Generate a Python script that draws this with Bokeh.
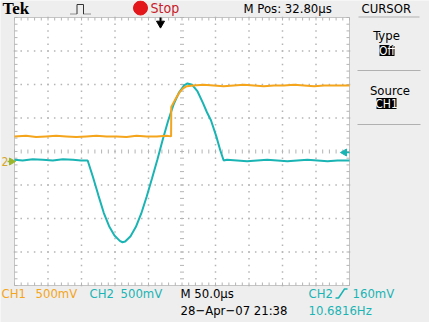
import numpy as np
from bokeh.plotting import figure
from bokeh.models import Range1d, Label
from bokeh.embed import file_html
from bokeh.resources import INLINE

# ---------------- data ----------------
ch1_time_us = [-217.2, -200, -185, -170, -155, -140, -125, -110, -95, -80, -65, -50,
               -35, -20, -5, 10, 16.5, 16.8, 20, 25, 30, 35, 40, 50, 65, 80, 95, 110,
               125, 140, 155, 170, 185, 200, 215, 230, 245, 260, 282.8]
ch1_volts = [0.36, 0.37, 0.35, 0.36, 0.37, 0.36, 0.35, 0.36, 0.37, 0.36, 0.36, 0.35,
             0.37, 0.36, 0.36, 0.37, 0.36, 0.80, 0.86, 0.95, 1.03, 1.08, 1.11, 1.12,
             1.13, 1.12, 1.11, 1.12, 1.13, 1.12, 1.11, 1.12, 1.12, 1.13, 1.12, 1.11,
             1.12, 1.12, 1.12]

ch2_time_us = [-217.2, -205, -190, -175, -160, -145, -130, -118, -108, -100, -92, -84,
               -76, -68, -60, -56, -52, -44, -36, -28, -20, -12, -4, 0, 4, 12, 20, 28,
               36, 41, 48, 56, 64, 70, 76, 84, 90, 95, 100, 115, 130, 145, 160, 175,
               190, 205, 220, 235, 250, 265, 282.8]
ch2_volts = [0.01, 0.0, 0.02, 0.01, 0.0, 0.02, 0.01, 0.0, 0.0, -0.25, -0.52, -0.78,
             -0.98, -1.12, -1.20, -1.22, -1.21, -1.13, -0.99, -0.79, -0.54, -0.27, 0.01,
             0.16, 0.31, 0.59, 0.83, 1.01, 1.12, 1.15, 1.13, 1.03, 0.86, 0.72, 0.60,
             0.36, 0.15, 0.0, 0.01, 0.0, -0.01, 0.0, 0.01, 0.0, -0.01, 0.0, 0.01, 0.0,
             -0.01, 0.0, 0.0]

m_pos_us = 32.8
time_per_div_us = 50.0
volts_per_div = 0.5

# ---------------- layout ----------------
W, H = 429, 322
DIV = 33.5
GX0, GY0 = 14.0, 17.0
CX = GX0 + 5 * DIV
CY = GY0 + 4 * DIV
CH_GND_PX = 160.0

FONT = "Liberation Sans Narrow, DejaVu Sans Condensed, sans-serif"
ORANGE = "#f4a51c"
CYAN = "#1ab4b4"
GRID = "#b4b4b4"
BORDER = "#c4c4c4"
BG = "#eeeeee"


def xd(px):
    return (px - CX) / DIV


def yd(py):
    return (CY - py) / DIV


ch_pos = yd(CH_GND_PX)

p = figure(width=W, height=H, x_range=Range1d(xd(0), xd(W)), y_range=Range1d(yd(H), yd(0)),
           x_axis_location=None, y_axis_location=None, toolbar_location=None,
           output_backend="svg", min_border=0, background_fill_color=BG,
           border_fill_color=BG, outline_line_color=None)
p.xgrid.visible = False
p.ygrid.visible = False
p.extra_x_ranges = {"time": Range1d(m_pos_us + xd(0) * time_per_div_us,
                                    m_pos_us + xd(W) * time_per_div_us)}
p.extra_y_ranges = {"ch1": Range1d((yd(H) - ch_pos) * volts_per_div, (yd(0) - ch_pos) * volts_per_div),
                    "ch2": Range1d((yd(H) - ch_pos) * volts_per_div, (yd(0) - ch_pos) * volts_per_div)}

# graticule
p.quad(left=[-5], right=[5], bottom=[-4], top=[4], fill_color="white", line_color=BORDER, line_width=1)

fine_x = np.round(np.arange(-5, 5.001, 0.2), 3)
fine_y = np.round(np.arange(-4, 4.001, 0.2), 3)
dx, dy = [], []
for gx in range(-4, 5):
    if gx == 0:
        continue
    for fy in fine_y:
        dx.append(gx); dy.append(fy)
for gy in range(-3, 4):
    if gy == 0:
        continue
    for fx in fine_x:
        dx.append(fx); dy.append(gy)
p.scatter(dx, dy, marker="square", size=1.5, color=GRID, line_color=None)

t = 0.06
seg_x0, seg_y0, seg_x1, seg_y1 = [], [], [], []
for fx in fine_x:
    seg_x0 += [fx, fx, fx]; seg_x1 += [fx, fx, fx]
    seg_y0 += [-t, -4, 4]; seg_y1 += [t, -4 + 1.5 * t, 4 - 1.5 * t]
for fy in fine_y:
    seg_y0 += [fy, fy, fy]; seg_y1 += [fy, fy, fy]
    seg_x0 += [-t, -5, 5]; seg_x1 += [t, -5 + 1.5 * t, 5 - 1.5 * t]
p.segment(seg_x0, seg_y0, seg_x1, seg_y1, line_color=GRID, line_width=1)

# traces
p.line(ch2_time_us, ch2_volts, x_range_name="time", y_range_name="ch2", line_color=CYAN, line_width=2)
p.line(ch1_time_us, ch1_volts, x_range_name="time", y_range_name="ch1", line_color=ORANGE, line_width=2)


def txt(s, px, py, color="black", size=13, font=FONT, style="normal", align="left"):
    p.add_layout(Label(x=xd(px), y=yd(py), text=s, text_color=color, text_font_size=f"{size}px",
                       text_font=font, text_font_style=style, text_align=align,
                       text_baseline="middle"))


# top bar
txt("Tek", 2, 8, size=17, font="Liberation Serif, serif", style="bold")
p.line([xd(70), xd(76.5)], [yd(13.5), yd(13.5)], line_color="#333333", line_width=1, line_dash="1 1")
p.line([xd(76.5), xd(76.5), xd(83), xd(83)], [yd(13.5), yd(4), yd(4), yd(13.5)],
       line_color="#333333", line_width=1)
p.line([xd(83), xd(90)], [yd(13.5), yd(13.5)], line_color="#333333", line_width=1, line_dash="1 1")
p.scatter([xd(140)], [yd(7.5)], size=14, color="#e3161b")
txt("Stop", 150, 7.5, color="#c8202a", size=14)
txt("M Pos: 32.80\u00b5s", 243, 7.5, size=13)
txt("CURSOR", 361, 7.5, size=13)
p.segment([xd(358)], [yd(16.5)], [xd(419)], [yd(16.5)], line_color="#b0b0b0", line_width=1)

# trigger position arrow
p.segment([xd(160)], [yd(17)], [xd(160)], [yd(21)], line_color="black", line_width=2)
p.scatter([xd(160)], [yd(23)], marker="inverted_triangle", size=8, color="black")

# right menu
txt("Type", 386, 35, size=13, align="center")
p.quad(left=[xd(379)], right=[xd(394)], top=[yd(44.5)], bottom=[yd(55.5)], fill_color="black", line_color=None)
txt("Off", 386.5, 50, color="white", size=12, align="center")
p.segment([xd(357)], [yd(70)], [xd(420)], [yd(70)], line_color="#b0b0b0", line_width=1)
txt("Source", 389.5, 90, size=13, align="center")
p.quad(left=[xd(376)], right=[xd(396)], top=[yd(97.5)], bottom=[yd(108.5)], fill_color="black", line_color=None)
txt("CH1", 386, 103, color="white", size=12, align="center")
p.segment([xd(357)], [yd(124)], [xd(420)], [yd(124)], line_color="#b0b0b0", line_width=1)

# channel markers
txt("2", 1, 161, color="#d6a52a", size=12)
p.segment([xd(7)], [yd(161)], [xd(12)], [yd(161)], line_color="#9cb62c", line_width=1.5)
p.scatter([xd(11)], [yd(161)], marker="triangle", angle=-np.pi / 2, size=7, color="#9cb62c")
p.segment([xd(342)], [yd(152)], [xd(349)], [yd(152)], line_color=CYAN, line_width=1.5)
p.scatter([xd(344)], [yd(152)], marker="triangle", angle=np.pi / 2, size=7, color=CYAN)

# bottom readouts
txt("CH1", 1, 293, color=ORANGE)
txt("500mV", 35, 293, color=ORANGE)
txt("CH2", 89, 293, color=CYAN)
txt("500mV", 120, 293, color=CYAN)
txt("M 50.0\u00b5s", 180, 293)
txt("28\u2212Apr\u221207 21:38", 180, 310)
txt("CH2", 308, 293, color=CYAN)
p.line([xd(335), xd(338), xd(344), xd(347)], [yd(297.5), yd(297.5), yd(288.5), yd(288.5)],
       line_color=CYAN, line_width=1.5)
txt("160mV", 352, 293, color=CYAN)
txt("10.6816Hz", 308, 310, color=CYAN)

open("out.html", "w").write(file_html(p, INLINE))
